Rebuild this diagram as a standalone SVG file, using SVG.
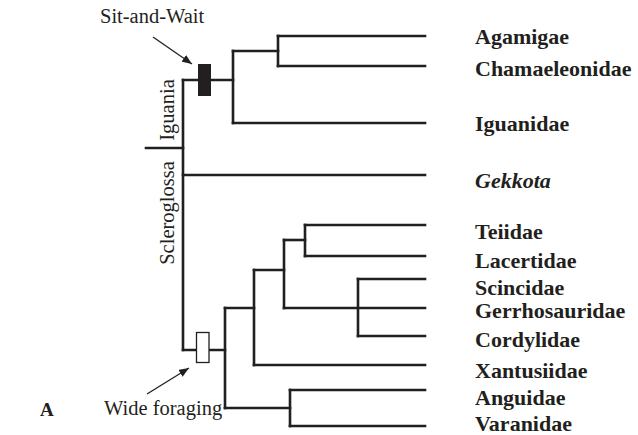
<svg xmlns="http://www.w3.org/2000/svg" width="638" height="435" viewBox="0 0 638 435">
  <defs>
    <marker id="arrowhead" viewBox="0 0 10 8" refX="10" refY="4" markerWidth="10" markerHeight="8" markerUnits="userSpaceOnUse" orient="auto">
      <path d="M0,0 L10,4 L0,8 Z" fill="#231f20"/>
    </marker>
    <style>
      .branch { fill: none; stroke: #231f20; stroke-width: 2.6; stroke-linecap: square; stroke-linejoin: miter; }
      .pointer { fill: none; stroke: #231f20; stroke-width: 1.3; }
      .taxon { font-family: "Liberation Serif", "Times New Roman", serif; font-size: 22px; font-weight: bold; fill: #231f20; }
      .taxon-it { font-style: italic; }
      .note { font-family: "Liberation Serif", "Times New Roman", serif; font-size: 20.5px; fill: #231f20; }
      .clade { font-family: "Liberation Serif", "Times New Roman", serif; font-size: 20.5px; fill: #231f20; }
    </style>
  </defs>
  <rect width="638" height="435" fill="#ffffff"/>

  <!-- tree branches -->
  <g id="connectors">
    <!-- stem and root -->
    <path class="branch" d="M146,148 H183"/>
    <path class="branch" d="M183,80 V350"/>
    <!-- Iguania -->
    <path class="branch" d="M183,80 H233"/>
    <path class="branch" d="M233,51 V123"/>
    <path class="branch" d="M233,51 H278"/>
    <path class="branch" d="M278,36 V66"/>
    <path class="branch" d="M278,36 H425"/>
    <path class="branch" d="M278,66 H425"/>
    <path class="branch" d="M233,123 H425"/>
    <!-- Gekkota -->
    <path class="branch" d="M183,175 H425"/>
    <!-- Autarchoglossa -->
    <path class="branch" d="M183,350 H225"/>
    <path class="branch" d="M225,308 V408"/>
    <path class="branch" d="M225,308 H254"/>
    <path class="branch" d="M254,270 V365"/>
    <path class="branch" d="M254,365 H425"/>
    <path class="branch" d="M254,270 H284"/>
    <path class="branch" d="M284,240 V308"/>
    <path class="branch" d="M284,240 H305"/>
    <path class="branch" d="M305,225 V256"/>
    <path class="branch" d="M305,225 H425"/>
    <path class="branch" d="M305,256 H425"/>
    <path class="branch" d="M284,308 H425"/>
    <path class="branch" d="M358,279 V336"/>
    <path class="branch" d="M358,279 H425"/>
    <path class="branch" d="M358,336 H425"/>
    <path class="branch" d="M225,408 H290"/>
    <path class="branch" d="M290,390 V426"/>
    <path class="branch" d="M290,390 H425"/>
    <path class="branch" d="M290,426 H425"/>
    <!-- character pointers -->
    <path class="pointer" d="M153,37 L192,64" marker-end="url(#arrowhead)"/>
    <path class="pointer" d="M147,394 L189,368" marker-end="url(#arrowhead)"/>
  </g>

  <!-- character state bars -->
  <g id="sit-and-wait">
    <rect x="198" y="64" width="13" height="32" fill="#231f20"/>
    <text class="note" x="100" y="23">Sit-and-Wait</text>
  </g>
  <g id="wide-foraging">
    <rect x="196.5" y="332.5" width="12.5" height="30" fill="#ffffff" stroke="#231f20" stroke-width="1.3"/>
    <text class="note" x="104" y="415">Wide foraging</text>
  </g>

  <!-- clade names -->
  <g id="iguania">
    <text class="clade" transform="translate(174,110) rotate(-90)" text-anchor="middle">Iguania</text>
  </g>
  <g id="scleroglossa">
    <text class="clade" transform="translate(174,213) rotate(-90)" text-anchor="middle">Scleroglossa</text>
  </g>

  <!-- panel letter -->
  <g id="panel-label">
    <text class="taxon" x="40" y="416" style="font-size:19px">A</text>
  </g>

  <!-- terminal taxa -->
  <g id="agamigae"><text class="taxon" x="475" y="44">Agamigae</text></g>
  <g id="chamaeleonidae"><text class="taxon" x="475" y="76">Chamaeleonidae</text></g>
  <g id="iguanidae"><text class="taxon" x="475" y="131">Iguanidae</text></g>
  <g id="gekkota"><text class="taxon taxon-it" x="475" y="188">Gekkota</text></g>
  <g id="teiidae"><text class="taxon" x="475" y="239">Teiidae</text></g>
  <g id="lacertidae"><text class="taxon" x="475" y="268">Lacertidae</text></g>
  <g id="scincidae"><text class="taxon" x="475" y="295">Scincidae</text></g>
  <g id="gerrhosauridae"><text class="taxon" x="475" y="318">Gerrhosauridae</text></g>
  <g id="cordylidae"><text class="taxon" x="475" y="347">Cordylidae</text></g>
  <g id="xantusiidae"><text class="taxon" x="475" y="378">Xantusiidae</text></g>
  <g id="anguidae"><text class="taxon" x="475" y="405">Anguidae</text></g>
  <g id="varanidae"><text class="taxon" x="475" y="431">Varanidae</text></g>
</svg>
